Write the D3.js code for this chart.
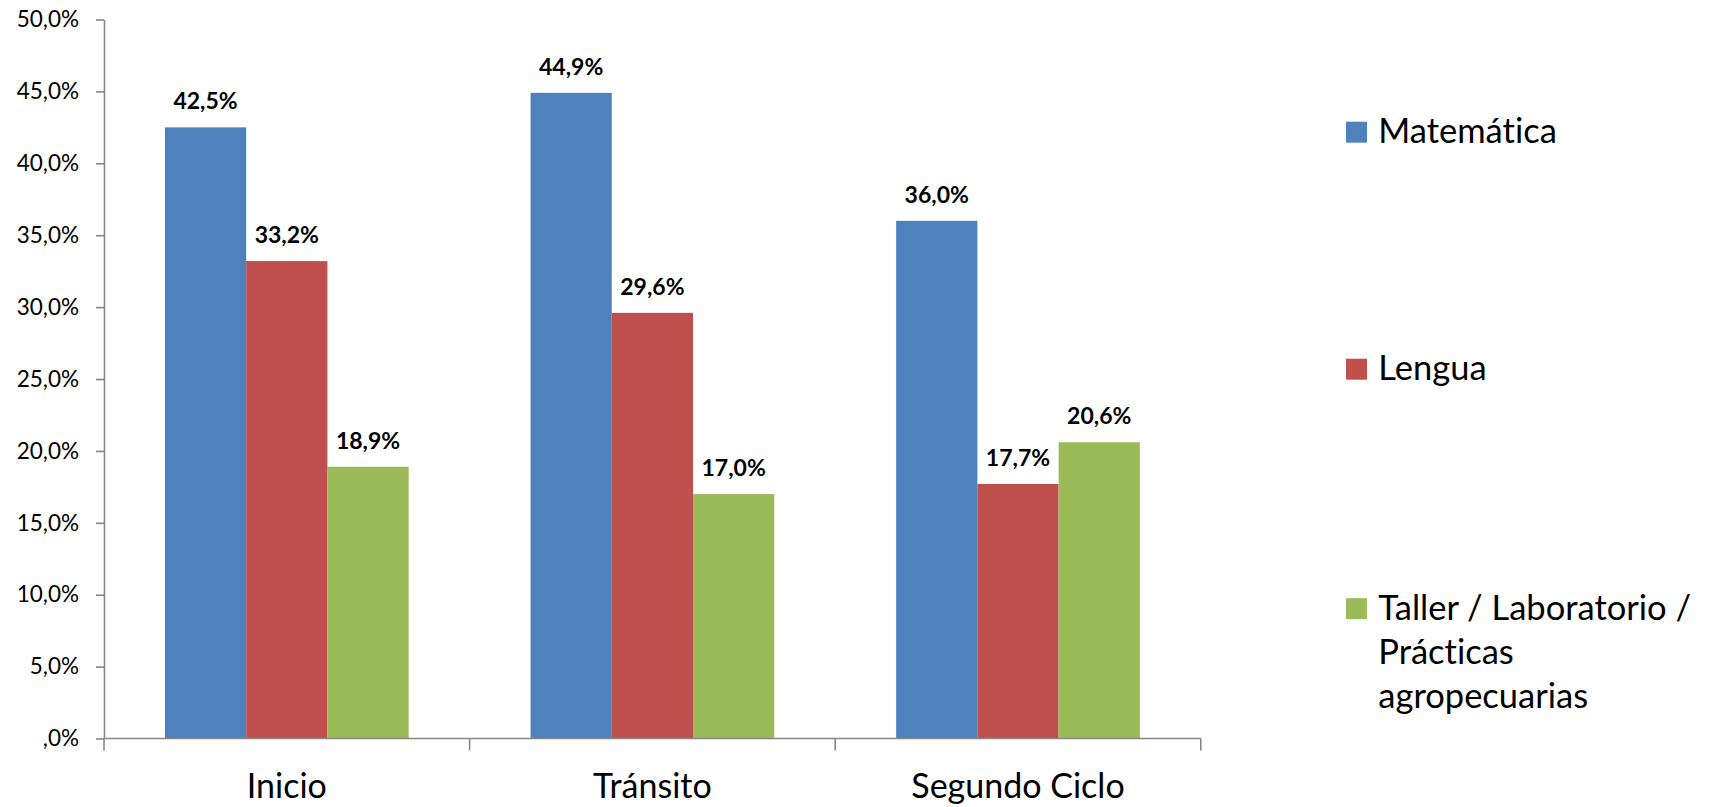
<!DOCTYPE html>
<html>
<head>
<meta charset="utf-8">
<script src="https://cdn.jsdelivr.net/npm/d3@7"></script>
<style>
  html, body { margin: 0; padding: 0; background: #fff; }
  svg { display: block; font-family: Lato, "Open Sans", sans-serif; font-variant-ligatures: none; font-feature-settings: "liga" 0, "dlig" 0; }
</style>
</head>
<body>
<svg id="chart" width="1711" height="807"></svg>
<script>
// ---- data ----
const categories = ["Inicio", "Tránsito", "Segundo Ciclo"];
const seriesNames = ["Matemática", "Lengua", "Taller / Laboratorio / Prácticas agropecuarias"];
const matematica = [42.5, 44.9, 36.0];
const lengua = [33.2, 29.6, 17.7];
const taller = [18.9, 17.0, 20.6];
const seriesColors = ["#4F81BD", "#C0504D", "#9BBB59"];
const yTickValues = [0, 5, 10, 15, 20, 25, 30, 35, 40, 45, 50];
const yTickLabels = [",0%", "5,0%", "10,0%", "15,0%", "20,0%", "25,0%", "30,0%", "35,0%", "40,0%", "45,0%", "50,0%"];
const legendLines = [["Matemática"], ["Lengua"], ["Taller / Laboratorio /", "Prácticas", "agropecuarias"]];

const seriesValues = [matematica, lengua, taller];
const rows = categories.map((c, i) => ({
  category: c,
  values: seriesNames.map((s, j) => ({ series: s, idx: j, value: seriesValues[j][i] }))
}));

const svg = d3.select("#chart");
const axisColor = "#868686";

// ---- scales ----
const plotLeft = 104, plotRight = 1200.8, plotTop = 19.5, plotBottom = 738.5;
const y = d3.scaleLinear().domain([0, 50]).range([plotBottom, plotTop]);
const x0 = d3.scaleBand().domain(categories).range([plotLeft, plotRight]).padding(0);
const bw = x0.bandwidth();
const x1 = d3.scaleBand().domain(seriesNames).range([bw / 6, bw - bw / 6]).padding(0);

// ---- bars ----
const groups = svg.append("g").selectAll("g")
  .data(rows).enter().append("g")
  .attr("transform", d => `translate(${x0(d.category)},0)`);

groups.selectAll("rect")
  .data(d => d.values).enter().append("rect")
  .attr("x", d => x1(d.series))
  .attr("y", d => y(d.value))
  .attr("width", x1.bandwidth())
  .attr("height", d => y(0) - y(d.value))
  .attr("fill", d => seriesColors[d.idx]);

// ---- data labels ----
groups.selectAll("text.lbl")
  .data(d => d.values).enter().append("text")
  .attr("class", "lbl")
  .attr("x", d => x1(d.series) + x1.bandwidth() / 2)
  .attr("y", d => y(d.value) - 18)
  .attr("text-anchor", "middle")
  .attr("font-weight", "bold")
  .attr("font-size", "23px")
  .attr("fill", "#000")
  .text(d => d.value.toFixed(1).replace(".", ",") + "%");

// ---- y axis ----
const yAxis = d3.axisLeft(y)
  .tickValues(yTickValues)
  .tickFormat((d, i) => yTickLabels[i])
  .tickSize(8)
  .tickSizeOuter(0)
  .tickPadding(17);
const gy = svg.append("g").attr("transform", `translate(${plotLeft},0)`).call(yAxis);
gy.select(".domain").attr("stroke", axisColor).attr("stroke-width", 1.6);
gy.selectAll(".tick line").attr("stroke", axisColor).attr("stroke-width", 1.6);
gy.selectAll(".tick text").attr("font-size", "22.5px").attr("fill", "#000")
  .attr("font-family", "Lato, 'Open Sans', sans-serif");

// ---- x axis ----
const gx = svg.append("g").attr("transform", `translate(0,${plotBottom})`);
gx.append("line").attr("x1", plotLeft).attr("x2", plotRight)
  .attr("y1", 0).attr("y2", 0).attr("stroke", axisColor).attr("stroke-width", 1.6);
const boundaries = categories.map(c => x0(c)).concat([x0(categories[categories.length - 1]) + bw]);
gx.selectAll("line.tk").data(boundaries).enter().append("line")
  .attr("class", "tk")
  .attr("x1", d => d).attr("x2", d => d)
  .attr("y1", 0).attr("y2", 12)
  .attr("stroke", axisColor).attr("stroke-width", 1.6);
gx.selectAll("text").data(categories).enter().append("text")
  .attr("x", d => x0(d) + bw / 2)
  .attr("y", 59)
  .attr("text-anchor", "middle")
  .attr("font-size", "34px")
  .attr("fill", "#000")
  .text(d => d);

// ---- legend ----
const legendY = [132.2, 369.2, 608.7];
const legend = svg.append("g");
const li = legend.selectAll("g").data(seriesNames).enter().append("g")
  .attr("transform", (d, i) => `translate(1346,${legendY[i]})`);
li.append("rect").attr("x", 0).attr("y", -10.5).attr("width", 21).attr("height", 21)
  .attr("fill", (d, i) => seriesColors[i]);
const lt = li.append("text").attr("x", 32.3).attr("y", 11.2)
  .attr("font-size", "34.5px").attr("fill", "#000");
lt.selectAll("tspan").data((d, i) => legendLines[i]).enter().append("tspan")
  .attr("x", 32.3)
  .attr("dy", (d, k) => k === 0 ? 0 : 44)
  .text(d => d);
</script>
</body>
</html>
